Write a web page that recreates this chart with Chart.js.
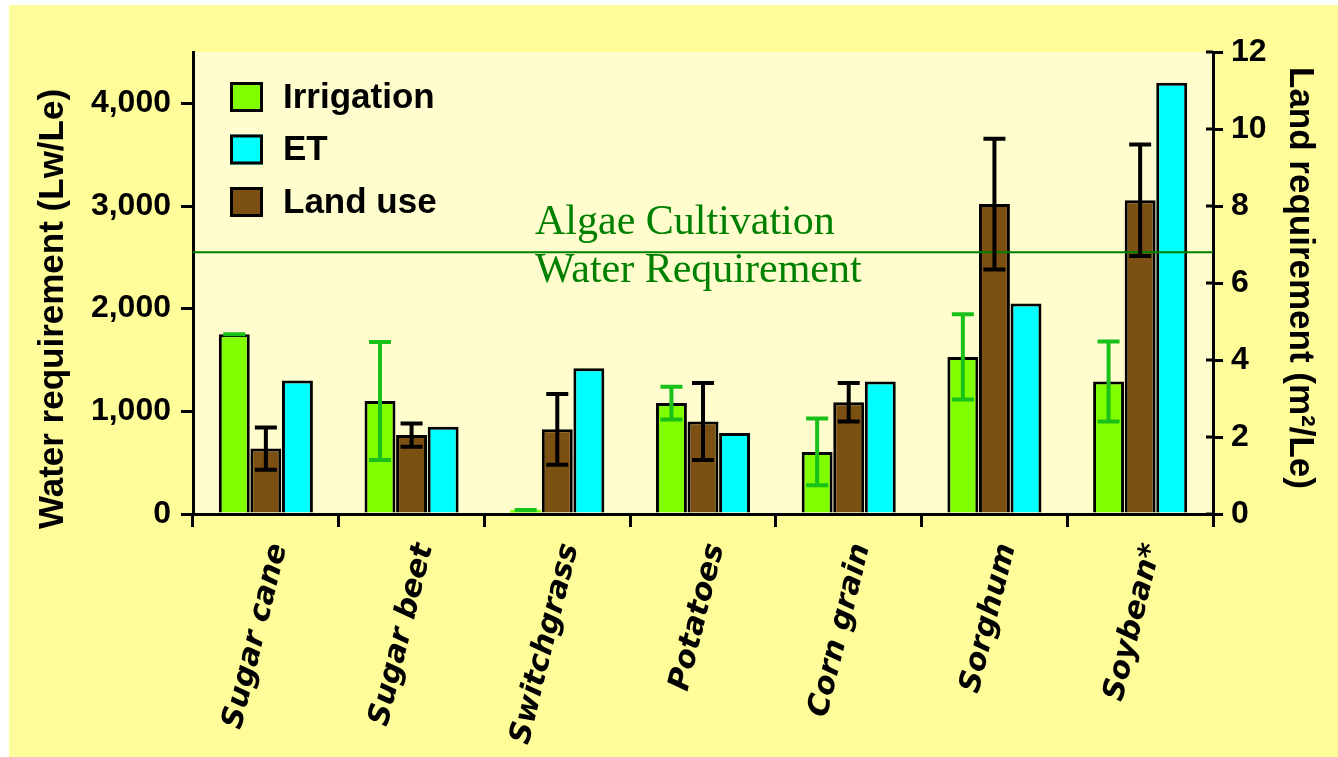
<!DOCTYPE html>
<html>
<head>
<meta charset="utf-8">
<title>Water and land requirements of biofuel crops</title>
<script src="https://cdn.jsdelivr.net/npm/chart.js@4.4.1/dist/chart.umd.min.js"></script>
<style>
  html, body { margin: 0; padding: 0; background: #fff; }
  canvas { display: block; }
</style>
</head>
<body>
<canvas id="cropChart" width="1338" height="757"></canvas>
<script>
// crops along the x axis
const crops = ['Sugar cane', 'Sugar beet', 'Switchgrass', 'Potatoes', 'Corn grain', 'Sorghum', 'Soybean*'];

// water use, litres of water per litre of ethanol (left axis)
const irrigation    = [1750, 1100, 40, 1080, 605, 1530, 1290];
const irrigationErr = [0, 575, 0, 160, 325, 415, 390];
const et            = [1300, 850, 1420, 790, 1290, 2050, 4200];

// land use, m2 per litre of ethanol (right axis)
const landUse    = [1.7, 2.05, 2.2, 2.4, 2.9, 8.05, 8.15];
const landUseErr = [0.55, 0.3, 0.92, 1.0, 0.5, 1.7, 1.45];

// reference level for algae, on the water axis
const algaeWater = 2550;

const waterTickValues = [0, 1000, 2000, 3000, 4000];
const landTickValues = [0, 2, 4, 6, 8, 10, 12];
const waterMax = 4500;
const landMax = 12;

const sans = "'Liberation Sans', Arial, sans-serif";

// page background, lighter plot area
const backdrop = {
  id: 'backdrop',
  beforeDraw(chart) {
    const { ctx, chartArea: a } = chart;
    ctx.save();
    ctx.fillStyle = '#ffffff';
    ctx.fillRect(0, 0, chart.width, chart.height);
    ctx.fillStyle = '#fffc9a';
    ctx.fillRect(9, 5, chart.width - 9, chart.height - 5);
    ctx.fillStyle = '#fffdcd';
    ctx.fillRect(a.left, a.top, a.right - a.left, a.bottom - a.top);
    ctx.restore();
  }
};

// algae line with its two-line caption
const algaeLine = {
  id: 'algaeLine',
  afterDatasetsDraw(chart) {
    const { ctx, chartArea: a } = chart;
    const y = chart.scales.y.getPixelForValue(algaeWater);
    ctx.save();
    ctx.strokeStyle = '#008000';
    ctx.lineWidth = 2;
    ctx.beginPath();
    ctx.moveTo(a.left, y);
    ctx.lineTo(a.right, y);
    ctx.stroke();
    ctx.fillStyle = '#008000';
    ctx.font = "42px 'Liberation Serif', 'Times New Roman', serif";
    ctx.textAlign = 'left';
    ctx.textBaseline = 'alphabetic';
    ctx.fillText('Algae Cultivation', a.left + 342, y - 18);
    ctx.fillText('Water Requirement', a.left + 342, y + 30);
    ctx.restore();
  }
};

// error bars with caps, read from dataset.errors
const errorBars = {
  id: 'errorBars',
  afterDatasetsDraw(chart) {
    const ctx = chart.ctx;
    chart.data.datasets.forEach((ds, di) => {
      if (!ds.errors) return;
      const meta = chart.getDatasetMeta(di);
      const scale = chart.scales[ds.yAxisID];
      ctx.save();
      ctx.strokeStyle = ds.errorColor;
      ctx.lineWidth = 4;
      meta.data.forEach((bar, i) => {
        const v = ds.data[i], e = ds.errors[i];
        const hi = scale.getPixelForValue(v + e);
        const lo = scale.getPixelForValue(Math.max(0, v - e));
        const x = bar.x, cap = 11;
        ctx.beginPath();
        ctx.moveTo(x, hi); ctx.lineTo(x, lo);
        ctx.moveTo(x - cap, hi); ctx.lineTo(x + cap, hi);
        ctx.moveTo(x - cap, lo); ctx.lineTo(x + cap, lo);
        ctx.stroke();
      });
      ctx.restore();
    });
  }
};

// inner half of the right-axis ticks
const innerTicks = {
  id: 'innerTicks',
  afterDraw(chart) {
    const { ctx } = chart;
    const s = chart.scales.y1;
    ctx.save();
    ctx.strokeStyle = '#000';
    ctx.lineWidth = 3;
    s.ticks.forEach(t => {
      const y = s.getPixelForValue(t.value);
      ctx.beginPath();
      ctx.moveTo(s.left - 7, y);
      ctx.lineTo(s.left, y);
      ctx.stroke();
    });
    ctx.restore();
  }
};

// axis titles
function drawVertical(ctx, text, x, y, angle) {
  ctx.save();
  ctx.fillStyle = '#000';
  ctx.font = 'bold 35px ' + sans;
  ctx.textAlign = 'center';
  ctx.textBaseline = 'middle';
  ctx.translate(x, y);
  ctx.rotate(angle);
  ctx.fillText(text, 0, 0);
  ctx.restore();
}

const axisTitles = {
  id: 'axisTitles',
  afterDraw(chart) {
    drawVertical(chart.ctx, 'Water requirement (Lw/Le)', 53, 309, -Math.PI / 2);
    drawVertical(chart.ctx, 'Land requirement (m\u00B2/Le)', 1300, 278, Math.PI / 2);
  }
};

// legend in the top-left corner of the plot
const boxLegend = {
  id: 'boxLegend',
  afterDraw(chart) {
    const { ctx, chartArea: a } = chart;
    const order = [0, 2, 1];
    ctx.save();
    ctx.font = 'bold 35px ' + sans;
    ctx.textBaseline = 'middle';
    ctx.textAlign = 'left';
    order.forEach((di, k) => {
      const ds = chart.data.datasets[di];
      const x = a.left + 37, y = a.top + 30 + k * 52.5;
      ctx.fillStyle = ds.backgroundColor;
      ctx.fillRect(x, y, 33, 30);
      ctx.strokeStyle = '#000';
      ctx.lineWidth = 3;
      ctx.strokeRect(x + 1.5, y + 1.5, 30, 27);
      ctx.fillStyle = '#000';
      ctx.fillText(ds.label, x + 53, y + 16);
    });
    ctx.restore();
  }
};

const axisLine = { color: '#000', width: 3 };
const tickFont = { family: sans, size: 32, weight: 'bold' };

new Chart(document.getElementById('cropChart'), {
  type: 'bar',
  data: {
    labels: crops,
    datasets: [
      {
        label: 'Irrigation',
        data: irrigation,
        errors: irrigationErr,
        errorColor: '#19c019',
        yAxisID: 'y',
        backgroundColor: '#80ff00',
        borderColor: '#000',
        borderWidth: c => (c.raw < 100 ? 0 : 3)
      },
      {
        label: 'Land use',
        data: landUse,
        errors: landUseErr,
        errorColor: '#000',
        yAxisID: 'y1',
        backgroundColor: '#7b5012',
        borderColor: '#000',
        borderWidth: 3
      },
      {
        label: 'ET',
        data: et,
        yAxisID: 'y',
        backgroundColor: '#00ffff',
        borderColor: '#000',
        borderWidth: 3
      }
    ]
  },
  options: {
    responsive: false,
    animation: false,
    categoryPercentage: 0.65,
    barPercentage: 0.98,
    layout: { padding: { top: 52, left: 0, right: 0, bottom: 0 } },
    plugins: {
      legend: { display: false },
      tooltip: { enabled: false }
    },
    scales: {
      x: {
        offset: true,
        border: axisLine,
        grid: { offset: true, drawOnChartArea: false, color: '#000', lineWidth: 3, tickLength: 13 },
        ticks: {
          autoSkip: false,
          minRotation: 76,
          maxRotation: 76,
          padding: 13,
          labelOffset: 13,
          color: '#000',
          font: { family: "'DejaVu Sans', sans-serif", style: 'italic', weight: 'bold', size: 30 }
        },
        afterFit: s => { s.height = 243; }
      },
      y: {
        position: 'left',
        min: 0,
        max: waterMax,
        border: axisLine,
        grid: { drawOnChartArea: false, color: '#000', lineWidth: 3, tickLength: 12 },
        afterBuildTicks: s => { s.ticks = waterTickValues.map(v => ({ value: v })); },
        ticks: {
          padding: 10,
          color: '#000',
          font: tickFont,
          callback: v => v.toLocaleString('en-US')
        },
        afterFit: s => { s.width = 193; }
      },
      y1: {
        position: 'right',
        min: 0,
        max: landMax,
        border: axisLine,
        grid: { drawOnChartArea: false, color: '#000', lineWidth: 3, tickLength: 10 },
        afterBuildTicks: s => { s.ticks = landTickValues.map(v => ({ value: v })); },
        ticks: {
          padding: 8,
          color: '#000',
          font: tickFont
        },
        afterFit: s => { s.width = 125; }
      }
    }
  },
  plugins: [backdrop, algaeLine, errorBars, innerTicks, axisTitles, boxLegend]
});
</script>
</body>
</html>
